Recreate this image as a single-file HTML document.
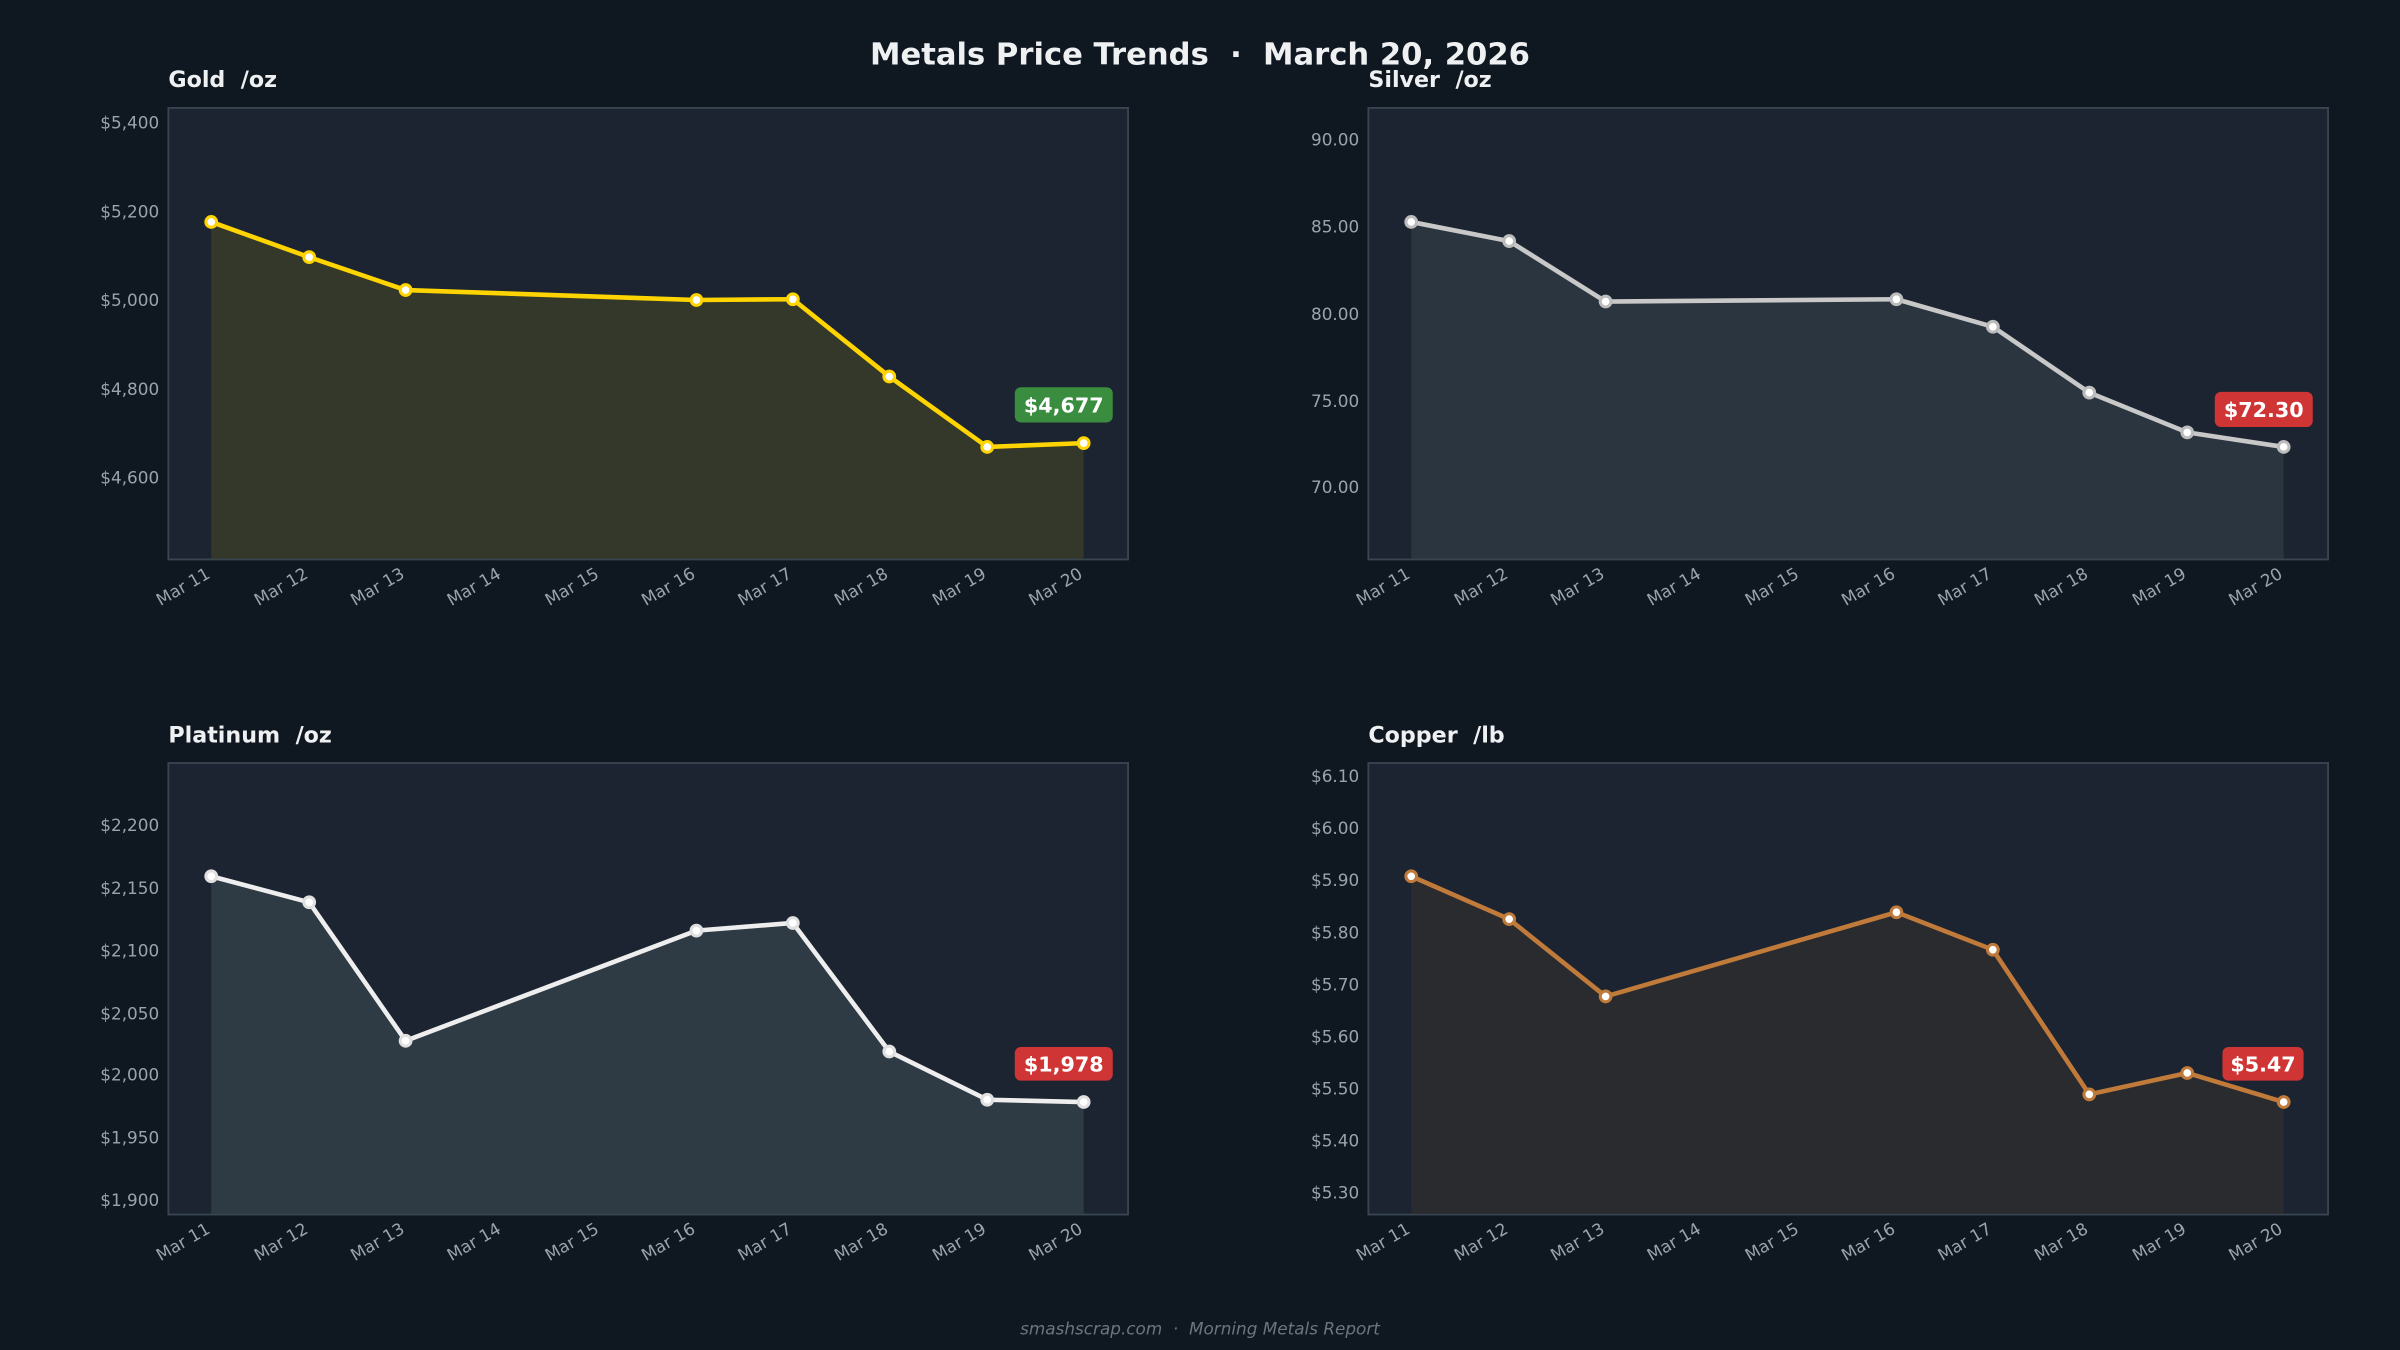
<!DOCTYPE html>
<html><head><meta charset="utf-8"><style>
html,body{margin:0;padding:0;background:#0f1720;}
svg{display:block;}
text{font-family:"DejaVu Sans","Liberation Sans",sans-serif;white-space:pre;}
.t{fill:#9aa4ae;font-size:11px;}
.h{fill:#eef0f2;font-size:14.5px;font-weight:bold;}
.b{fill:#fff;font-size:13.5px;font-weight:bold;}
</style></head><body>
<svg width="2400" height="1350" viewBox="0 0 1568 882" preserveAspectRatio="none" xmlns="http://www.w3.org/2000/svg" xml:space="preserve">
<rect width="1568" height="882" fill="#0f1720"/>
<text x="784" y="42" text-anchor="middle" style="fill:#eef0f2;font-size:20px;font-weight:bold">Metals Price Trends  ·  March 20, 2026</text>
<text x="784" y="872" text-anchor="middle" style="fill:#6b7580;font-size:11px;font-style:italic">smashscrap.com  ·  Morning Metals Report</text>

<g>
<text class="h" x="110" y="57">Gold  /oz</text>
<rect x="110" y="70.5" width="627" height="295" fill="#1b2430" stroke="#3a4552" stroke-width="1.2"/>
<polygon points="138,145 202,168 265,189.5 455,196 518,195.5 581,246 645,292 708,289.5 708,365 138,365" fill="#33382a"/>
<polyline points="138,145 202,168 265,189.5 455,196 518,195.5 581,246 645,292 708,289.5" fill="none" stroke="#ffd400" stroke-width="3" stroke-linejoin="round"/>
<g fill="#fff" stroke="#ffd400" stroke-width="2">
<circle cx="138" cy="145" r="3.5"/><circle cx="202" cy="168" r="3.5"/><circle cx="265" cy="189.5" r="3.5"/><circle cx="455" cy="196" r="3.5"/><circle cx="518" cy="195.5" r="3.5"/><circle cx="581" cy="246" r="3.5"/><circle cx="645" cy="292" r="3.5"/><circle cx="708" cy="289.5" r="3.5"/></g>
<g class="t" text-anchor="end"><text x="104" y="84">$5,400</text><text x="104" y="142">$5,200</text><text x="104" y="200">$5,000</text><text x="104" y="258">$4,800</text><text x="104" y="316">$4,600</text></g>
<rect x="663" y="253" width="64" height="23" rx="4" fill="#3a8c3f"/><text class="b" x="695" y="269.5" text-anchor="middle">$4,677</text>
</g>

<g>
<text class="h" x="894" y="57">Silver  /oz</text>
<rect x="894" y="70.5" width="627" height="295" fill="#1b2430" stroke="#3a4552" stroke-width="1.2"/>
<polygon points="922,145 986,157.5 1049,197 1239,195.5 1302,213.5 1365,256.5 1429,282.5 1492,292 1492,365 922,365" fill="#2a3540"/>
<polyline points="922,145 986,157.5 1049,197 1239,195.5 1302,213.5 1365,256.5 1429,282.5 1492,292" fill="none" stroke="#c8c8c8" stroke-width="3" stroke-linejoin="round"/>
<g fill="#fff" stroke="#bcbcbc" stroke-width="2">
<circle cx="922" cy="145" r="3.5"/><circle cx="986" cy="157.5" r="3.5"/><circle cx="1049" cy="197" r="3.5"/><circle cx="1239" cy="195.5" r="3.5"/><circle cx="1302" cy="213.5" r="3.5"/><circle cx="1365" cy="256.5" r="3.5"/><circle cx="1429" cy="282.5" r="3.5"/><circle cx="1492" cy="292" r="3.5"/></g>
<g class="t" text-anchor="end"><text x="888" y="95">90.00</text><text x="888" y="152">85.00</text><text x="888" y="209">80.00</text><text x="888" y="266">75.00</text><text x="888" y="322">70.00</text></g>
<rect x="1447" y="256" width="64" height="23" rx="4" fill="#d03535"/><text class="b" x="1479" y="272.5" text-anchor="middle">$72.30</text>
</g>

<g>
<text class="h" x="110" y="485">Platinum  /oz</text>
<rect x="110" y="498.5" width="627" height="295" fill="#1b2430" stroke="#3a4552" stroke-width="1.2"/>
<polygon points="138,572.5 202,589.5 265,680 455,608 518,603 581,687 645,718.5 708,720 708,793 138,793" fill="#2e3a44"/>
<polyline points="138,572.5 202,589.5 265,680 455,608 518,603 581,687 645,718.5 708,720" fill="none" stroke="#eeeeee" stroke-width="3" stroke-linejoin="round"/>
<g fill="#fff" stroke="#e0e0e0" stroke-width="2">
<circle cx="138" cy="572.5" r="3.5"/><circle cx="202" cy="589.5" r="3.5"/><circle cx="265" cy="680" r="3.5"/><circle cx="455" cy="608" r="3.5"/><circle cx="518" cy="603" r="3.5"/><circle cx="581" cy="687" r="3.5"/><circle cx="645" cy="718.5" r="3.5"/><circle cx="708" cy="720" r="3.5"/></g>
<g class="t" text-anchor="end"><text x="104" y="543">$2,200</text><text x="104" y="584">$2,150</text><text x="104" y="625">$2,100</text><text x="104" y="666">$2,050</text><text x="104" y="706">$2,000</text><text x="104" y="747">$1,950</text><text x="104" y="788">$1,900</text></g>
<rect x="663" y="684" width="64" height="22" rx="4" fill="#d03535"/><text class="b" x="695" y="700" text-anchor="middle">$1,978</text>
</g>

<g>
<text class="h" x="894" y="485">Copper  /lb</text>
<rect x="894" y="498.5" width="627" height="295" fill="#1b2430" stroke="#3a4552" stroke-width="1.2"/>
<polygon points="922,572.5 986,600.5 1049,651 1239,596 1302,620.5 1365,715 1429,701 1492,720 1492,793 922,793" fill="#2a2b2f"/>
<polyline points="922,572.5 986,600.5 1049,651 1239,596 1302,620.5 1365,715 1429,701 1492,720" fill="none" stroke="#c07a3a" stroke-width="3" stroke-linejoin="round"/>
<g fill="#fff" stroke="#c07a3a" stroke-width="2">
<circle cx="922" cy="572.5" r="3.5"/><circle cx="986" cy="600.5" r="3.5"/><circle cx="1049" cy="651" r="3.5"/><circle cx="1239" cy="596" r="3.5"/><circle cx="1302" cy="620.5" r="3.5"/><circle cx="1365" cy="715" r="3.5"/><circle cx="1429" cy="701" r="3.5"/><circle cx="1492" cy="720" r="3.5"/></g>
<g class="t" text-anchor="end"><text x="888" y="511">$6.10</text><text x="888" y="545">$6.00</text><text x="888" y="579">$5.90</text><text x="888" y="613">$5.80</text><text x="888" y="647">$5.70</text><text x="888" y="681">$5.60</text><text x="888" y="715">$5.50</text><text x="888" y="749">$5.40</text><text x="888" y="783">$5.30</text></g>
<rect x="1452" y="684" width="53" height="22" rx="4" fill="#d03535"/><text class="b" x="1478.5" y="700" text-anchor="middle">$5.47</text>
</g>

<g class="t" text-anchor="end">
<g transform="translate(0,0)">
<text transform="translate(138,377) rotate(-30)">Mar 11</text><text transform="translate(202,377) rotate(-30)">Mar 12</text><text transform="translate(265,377) rotate(-30)">Mar 13</text><text transform="translate(328,377) rotate(-30)">Mar 14</text><text transform="translate(392,377) rotate(-30)">Mar 15</text><text transform="translate(455,377) rotate(-30)">Mar 16</text><text transform="translate(518,377) rotate(-30)">Mar 17</text><text transform="translate(581,377) rotate(-30)">Mar 18</text><text transform="translate(645,377) rotate(-30)">Mar 19</text><text transform="translate(708,377) rotate(-30)">Mar 20</text>
</g>
<g transform="translate(784,0)">
<text transform="translate(138,377) rotate(-30)">Mar 11</text><text transform="translate(202,377) rotate(-30)">Mar 12</text><text transform="translate(265,377) rotate(-30)">Mar 13</text><text transform="translate(328,377) rotate(-30)">Mar 14</text><text transform="translate(392,377) rotate(-30)">Mar 15</text><text transform="translate(455,377) rotate(-30)">Mar 16</text><text transform="translate(518,377) rotate(-30)">Mar 17</text><text transform="translate(581,377) rotate(-30)">Mar 18</text><text transform="translate(645,377) rotate(-30)">Mar 19</text><text transform="translate(708,377) rotate(-30)">Mar 20</text>
</g>
<g transform="translate(0,428)">
<text transform="translate(138,377) rotate(-30)">Mar 11</text><text transform="translate(202,377) rotate(-30)">Mar 12</text><text transform="translate(265,377) rotate(-30)">Mar 13</text><text transform="translate(328,377) rotate(-30)">Mar 14</text><text transform="translate(392,377) rotate(-30)">Mar 15</text><text transform="translate(455,377) rotate(-30)">Mar 16</text><text transform="translate(518,377) rotate(-30)">Mar 17</text><text transform="translate(581,377) rotate(-30)">Mar 18</text><text transform="translate(645,377) rotate(-30)">Mar 19</text><text transform="translate(708,377) rotate(-30)">Mar 20</text>
</g>
<g transform="translate(784,428)">
<text transform="translate(138,377) rotate(-30)">Mar 11</text><text transform="translate(202,377) rotate(-30)">Mar 12</text><text transform="translate(265,377) rotate(-30)">Mar 13</text><text transform="translate(328,377) rotate(-30)">Mar 14</text><text transform="translate(392,377) rotate(-30)">Mar 15</text><text transform="translate(455,377) rotate(-30)">Mar 16</text><text transform="translate(518,377) rotate(-30)">Mar 17</text><text transform="translate(581,377) rotate(-30)">Mar 18</text><text transform="translate(645,377) rotate(-30)">Mar 19</text><text transform="translate(708,377) rotate(-30)">Mar 20</text>
</g>
</g>
</svg>
</body></html>
